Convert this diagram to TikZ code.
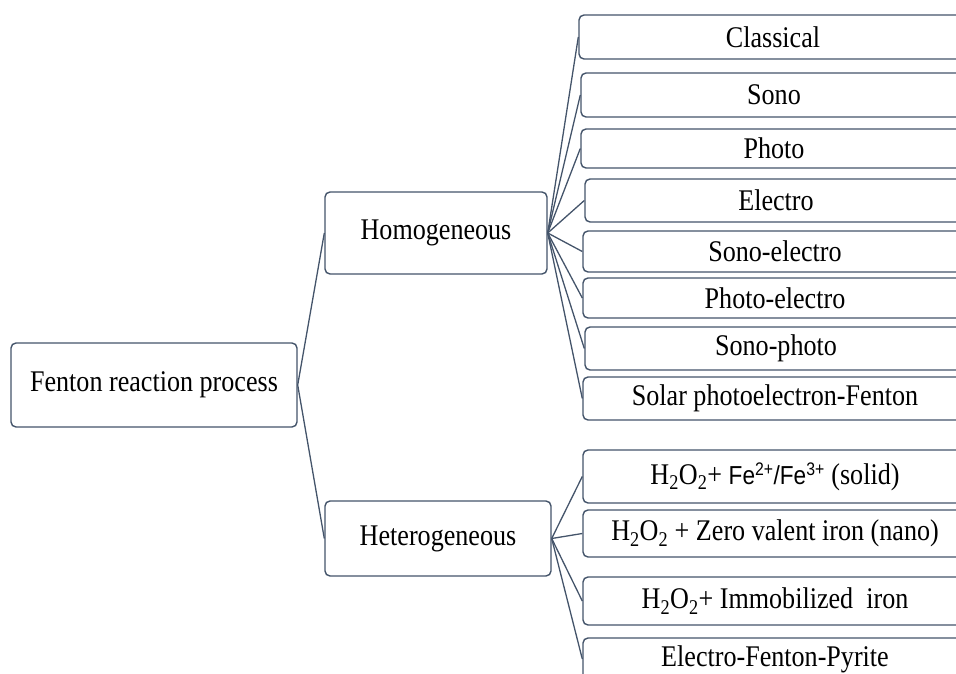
\documentclass[tikz,border=0pt]{standalone}
\usepackage{fontspec}
\setmainfont{Liberation Serif}[FakeStretch=0.87]
\newfontfamily\fesans{Liberation Sans}[FakeStretch=0.87]
\definecolor{edgecol}{HTML}{44546A}
\tikzset{
  box/.style={draw=edgecol, line width=1.4pt, fill=white, rounded corners=5pt,
    inner sep=0pt, align=center, font=\fontsize{30}{34}\selectfont},
  link/.style={draw=edgecol, line width=1.3pt}
}
\newcommand{\hhoo}{H\textsubscript{2}O\textsubscript{2}}
\begin{document}
\begin{tikzpicture}[x=1pt,y=-1pt]
\useasboundingbox (0,0) rectangle (956,674);
\clip (0,0) rectangle (956,674);
\node[box, minimum width=286pt, minimum height=84pt] (fen) at (154,385) {Fenton reaction process};
\node[box, minimum width=222pt, minimum height=82pt] (hom) at (436,233) {Homogeneous};
\node[box, minimum width=226pt, minimum height=75pt] (het) at (438,538.5) {Heterogeneous};
% homogeneous children
\node[box, minimum width=388pt, minimum height=44pt] (c1) at (773,37) {Classical};
\node[box, minimum width=386pt, minimum height=44pt] (c2) at (774,95) {Sono};
\node[box, minimum width=386pt, minimum height=39pt] (c3) at (774,148.5) {Photo};
\node[box, minimum width=382pt, minimum height=43pt] (c4) at (776,200.5) {Electro};
\node[box, minimum width=384pt, minimum height=41pt] (c5) at (775,251.5) {Sono-electro};
\node[box, minimum width=384pt, minimum height=40pt] (c6) at (775,298) {Photo-electro};
\node[box, minimum width=382pt, minimum height=43pt] (c7) at (776,348.5) {Sono-photo};
\node[box, minimum width=384pt, minimum height=43pt] (c8) at (775,398.5) {Solar photoelectron-Fenton};
% heterogeneous children
\node[box, minimum width=384pt, minimum height=53pt] (d1) at (775,476.5) {\hhoo+ {\fesans\fontsize{26}{30}\selectfont Fe\textsuperscript{2+}/Fe\textsuperscript{3+}} (solid)};
\node[box, minimum width=384pt, minimum height=47pt] (d2) at (775,533.5) {\hhoo{} + Zero valent iron (nano)};
\node[box, minimum width=384pt, minimum height=48pt] (d3) at (775,601) {\hhoo+ Immobilized\ \ iron};
\node[box, minimum width=384pt, minimum height=42pt] (d4) at (775,659) {Electro-Fenton-Pyrite};
% connectors
\draw[link] (fen.east) -- (hom.west);
\draw[link] (fen.east) -- (het.west);
\foreach \c in {c1,c2,c3,c4,c5,c6,c7,c8} {\draw[link] (hom.east) -- (\c.west);}
\foreach \c in {d1,d2,d3,d4} {\draw[link] (het.east) -- (\c.west);}
\end{tikzpicture}
\end{document}
